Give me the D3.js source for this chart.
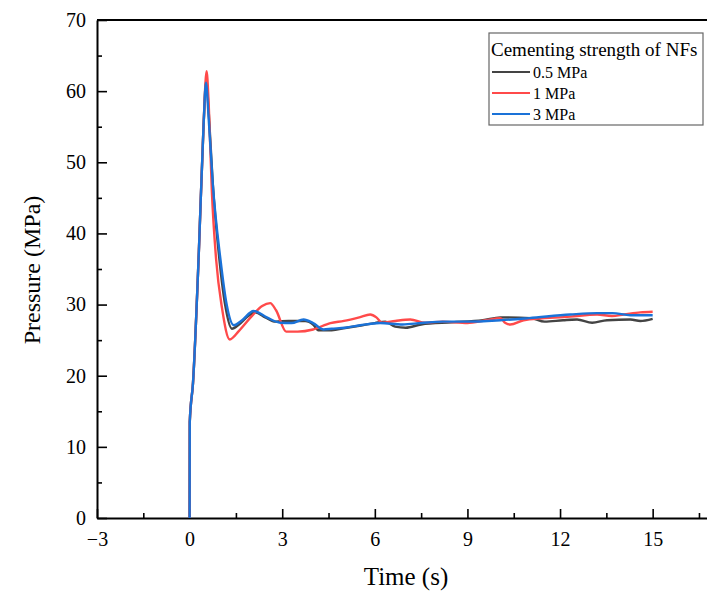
<!DOCTYPE html>
<meta charset="utf-8">
<style>
    body { margin: 0; background: #fff; }
    svg { font-family: "Liberation Serif", "Times New Roman", serif; }
    .axis path, .axis line { stroke: #000; }
    .axis path { stroke-width: 2px; }
    .axis line { stroke-width: 1.6px; }
    .axis text { font-size: 20px; fill: #000; font-family: "Liberation Serif", serif; }
    .line { fill: none; stroke-width: 2.4px; stroke-linejoin: round; }
</style>
<body>
<svg width="707" height="592"></svg>
<script src="https://cdnjs.cloudflare.com/ajax/libs/d3/7.8.5/d3.min.js"></script>
<script>

    // series (time in s, pressure in MPa)
    var t05 = [0, 0.005, 0.11, 0.3, 0.45, 0.54, 0.62, 0.75, 0.95, 1.15, 1.37, 1.6, 1.9, 2.13, 2.45, 2.78, 3.2, 3.75, 4.0, 4.17, 4.6, 5.04, 5.6, 6.0, 6.34, 6.66, 7.0, 7.5, 8.5, 9.5, 10.07, 11.05, 11.5, 12.1, 12.55, 13.04, 13.52, 14.28, 14.6, 15.0];
    var p05 = [0, 13.5, 19, 37.5, 55, 61.5, 57, 47, 37, 30, 26.6, 27.2, 28.4, 28.9, 28.2, 27.6, 27.7, 27.7, 27.2, 26.4, 26.4, 26.7, 27.1, 27.4, 27.6, 26.9, 26.75, 27.2, 27.5, 27.8, 28.2, 28.1, 27.6, 27.8, 27.9, 27.45, 27.8, 27.9, 27.7, 28.0];

    var t1 = [0, 0.005, 0.11, 0.3, 0.45, 0.55, 0.62, 0.72, 0.86, 1.05, 1.3, 1.6, 2.0, 2.35, 2.61, 2.8, 3.13, 3.5, 4.0, 4.56, 5.0, 5.5, 5.85, 6.05, 6.23, 6.66, 7.15, 7.63, 8.2, 9.0, 9.6, 10.07, 10.23, 10.39, 10.82, 12.33, 13.2, 13.68, 14.06, 14.6, 15.0];
    var p1 = [0, 13.5, 19, 37.5, 55, 62.8, 58, 46, 36.3, 29.5, 25.1, 26.3, 28.3, 29.8, 30.2, 29.2, 26.2, 26.2, 26.5, 27.4, 27.7, 28.2, 28.6, 28.2, 27.45, 27.7, 27.9, 27.45, 27.6, 27.4, 27.8, 28.1, 27.4, 27.2, 27.8, 28.3, 28.6, 28.4, 28.6, 28.9, 29.0];

    var t3 = [0, 0.005, 0.11, 0.3, 0.45, 0.53, 0.62, 0.75, 1.0, 1.2, 1.43, 1.7, 2.07, 2.5, 2.94, 3.3, 3.69, 4.0, 4.34, 4.6, 5.04, 5.53, 6.17, 6.9, 7.5, 8.2, 9.0, 10.07, 11.0, 12.33, 13.2, 13.7, 14.28, 15.0];
    var p3 = [0, 13.5, 19, 37.5, 55, 61.2, 56, 47, 36.3, 30, 27.1, 27.8, 29.1, 28.2, 27.45, 27.4, 27.9, 27.4, 26.5, 26.6, 26.75, 27.1, 27.4, 27.2, 27.4, 27.6, 27.6, 27.8, 28.1, 28.6, 28.8, 28.8, 28.5, 28.5];

    var seriesNames = ["0.5 MPa", "1 MPa", "3 MPa"];
    var seriesColors = ["#444444", "#ff4a4a", "#1a72d8"];
    var legendTitle = "Cementing strength of NFs";

    var xMajor = [-3, 0, 3, 6, 9, 12, 15];
    var xMinor = [-1.5, 1.5, 4.5, 7.5, 10.5, 13.5, 16.5];
    var yMajor = [0, 10, 20, 30, 40, 50, 60, 70];
    var yMinor = [5, 15, 25, 35, 45, 55, 65];

    var svg = d3.select("svg"),
        plotLeft = 97, plotTop = 20, plotBottom = 518;

    var x = d3.scaleLinear().domain([-3, 18]).range([plotLeft, plotLeft + 21 * 30.87]),
        y = d3.scaleLinear().domain([0, 70]).range([plotBottom, plotTop]);

    // top frame line (right side runs off the picture)
    svg.append("line")
        .attr("x1", plotLeft).attr("x2", 707)
        .attr("y1", plotTop).attr("y2", plotTop)
        .attr("stroke", "#000").attr("stroke-width", 2);

    svg.append("g")
        .attr("class", "axis")
        .attr("transform", "translate(0," + plotBottom + ")")
        .call(d3.axisBottom(x).tickValues(xMajor).tickSizeInner(-9).tickSizeOuter(0).tickPadding(14));

    svg.append("g")
        .attr("class", "axis minor")
        .attr("transform", "translate(0," + plotBottom + ")")
        .call(d3.axisBottom(x).tickValues(xMinor).tickSizeInner(-5).tickSizeOuter(0).tickFormat(""));

    svg.append("g")
        .attr("class", "axis")
        .attr("transform", "translate(" + plotLeft + ",0)")
        .call(d3.axisLeft(y).tickValues(yMajor).tickSizeInner(-10).tickSizeOuter(0).tickPadding(11));

    svg.append("g")
        .attr("class", "axis minor")
        .attr("transform", "translate(" + plotLeft + ",0)")
        .call(d3.axisLeft(y).tickValues(yMinor).tickSizeInner(-5).tickSizeOuter(0).tickFormat(""));

    svg.selectAll(".minor path").remove();

    // axis titles
    svg.append("text")
        .attr("x", 406).attr("y", 585)
        .attr("text-anchor", "middle")
        .style("font-size", "25px")
        .text("Time (s)");

    svg.append("text")
        .attr("transform", "translate(40,270) rotate(-90)")
        .attr("text-anchor", "middle")
        .style("font-size", "24px")
        .text("Pressure (MPa)");

    var line = d3.line()
        .x(function (d) { return x(d[0]); })
        .y(function (d) { return y(d[1]); })
        .curve(d3.curveMonotoneX);

    var series = [d3.zip(t05, p05), d3.zip(t1, p1), d3.zip(t3, p3)];

    svg.selectAll(".line")
        .data(series)
        .enter().append("path")
        .attr("class", "line")
        .attr("stroke", function (d, i) { return seriesColors[i]; })
        .attr("d", line);

    // legend
    var legend = svg.append("g").attr("transform", "translate(489,33)");

    legend.append("rect")
        .attr("width", 214).attr("height", 92)
        .attr("fill", "#fff")
        .attr("stroke", "#666").attr("stroke-width", 1.2);

    legend.append("text")
        .attr("x", 2).attr("y", 23)
        .style("font-size", "19px")
        .text(legendTitle);

    var item = legend.selectAll(".item")
        .data(seriesNames)
        .enter().append("g")
        .attr("transform", function (d, i) { return "translate(0," + (39 + i * 21) + ")"; });

    item.append("line")
        .attr("x1", 3).attr("x2", 41)
        .attr("stroke", function (d, i) { return seriesColors[i]; })
        .attr("stroke-width", 2);

    item.append("text")
        .attr("x", 44).attr("y", 5.5)
        .style("font-size", "16px")
        .text(function (d) { return d; });

</script>
</body>
